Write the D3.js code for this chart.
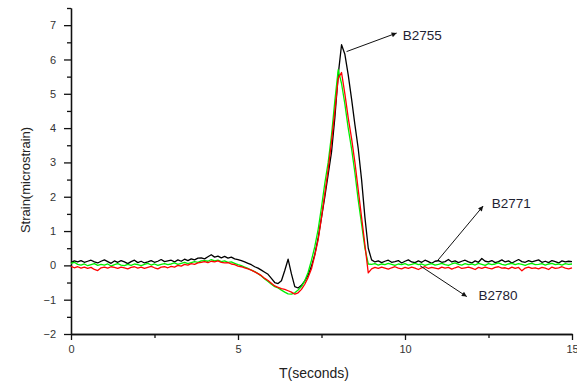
<!DOCTYPE html>
<html>
<head>
<meta charset="utf-8">
<script src="https://cdn.jsdelivr.net/npm/d3@7"></script>
<style>
  html, body { margin: 0; padding: 0; background: #fff; }
  svg { display: block; font-family: "Liberation Sans", Arial, sans-serif; }
</style>
</head>
<body>
<div class="container"></div>
<script>
// sample grid: 0 .. 15 s every 0.1 s
const times = d3.range(0, 151).map(i => i / 10);

// B2755 (black)
const b2755 = [
  0.08, 0.13, 0.10, 0.14, 0.09, 0.12, 0.15, 0.10, 0.07, 0.12,
  0.16, 0.11, 0.06, 0.13, 0.09, 0.14, 0.10, 0.05, 0.11, 0.15,
  0.08, 0.12, 0.07, 0.10, 0.14, 0.09, 0.12, 0.17, 0.11, 0.13,
  0.15, 0.10, 0.16, 0.12, 0.18, 0.14, 0.19, 0.16, 0.21, 0.22,
  0.19, 0.25, 0.31, 0.24, 0.27, 0.22, 0.26, 0.21, 0.24, 0.19,
  0.17, 0.14, 0.10, 0.06, 0.02, -0.04, -0.08, -0.14, -0.20, -0.26,
  -0.38, -0.50, -0.53, -0.45, -0.15, 0.18, -0.25, -0.62, -0.66, -0.58,
  -0.45, -0.28, -0.02, 0.32, 0.80, 1.40, 2.00, 2.65, 3.30, 4.30,
  5.55, 6.43, 6.15, 5.55, 4.85, 4.10, 3.40, 2.50, 1.40, 0.50,
  0.16, 0.10, 0.13, 0.08, 0.12, 0.15, 0.09, 0.11, 0.14, 0.07,
  0.12, 0.16, 0.10, 0.08, 0.13, 0.09, 0.15, 0.11, 0.06, 0.12,
  0.14, 0.09, 0.11, 0.17, 0.10, 0.13, 0.08, 0.12, 0.15, 0.10,
  0.07, 0.13, 0.09, 0.20, 0.12, 0.10, 0.14, 0.08, 0.11, 0.16,
  0.10, 0.13, 0.07, 0.12, 0.17, 0.11, 0.09, 0.14, 0.10, 0.13,
  0.16, 0.09, 0.12, 0.08, 0.14, 0.11, 0.07, 0.13, 0.10, 0.12,
  0.11
];

// B2771 (green)
const b2771 = [
  0.06, 0.09, 0.03, 0.01, 0.04, -0.01, 0.02, 0.05, 0.00, 0.03,
  0.01, 0.04, -0.02, 0.02, 0.05, 0.01, -0.01, 0.03, 0.00, 0.04,
  0.02, -0.01, 0.03, 0.06, 0.01, 0.04, 0.00, 0.03, 0.05, 0.02,
  0.04, 0.07, 0.03, 0.06, 0.09, 0.05, 0.08, 0.11, 0.09, 0.13,
  0.14, 0.12, 0.17, 0.13, 0.15, 0.11, 0.13, 0.09, 0.10, 0.06,
  0.02, -0.01, -0.05, -0.09, -0.14, -0.18, -0.24, -0.31, -0.40, -0.47,
  -0.55, -0.62, -0.66, -0.72, -0.78, -0.83, -0.84, -0.80, -0.72, -0.62,
  -0.45, -0.20, 0.15, 0.55, 1.05, 1.70, 2.40, 3.00, 3.80, 4.80,
  5.70, 5.30, 4.70, 4.00, 3.40, 2.70, 1.90, 1.20, 0.50, 0.04,
  0.03, 0.05, 0.01, 0.04, 0.02, 0.06, 0.03, 0.00, 0.04, 0.02,
  0.05, 0.01, 0.03, 0.06, 0.02, 0.04, 0.00, 0.03, 0.05, 0.01,
  0.03, 0.06, 0.02, 0.00, 0.04, 0.07, 0.03, 0.01, 0.05, 0.02,
  0.04, 0.01, 0.06, 0.03, 0.00, 0.05, 0.02, 0.04, 0.07, 0.03,
  0.01, 0.04, 0.06, 0.02, 0.05, 0.03, 0.00, 0.04, 0.06, 0.02,
  0.03, 0.05, 0.01, 0.04, 0.06, 0.02, 0.04, 0.01, 0.05, 0.03,
  0.04
];

// B2780 (red)
const b2780 = [
  -0.03, -0.07, -0.04, -0.08, -0.05, -0.09, -0.06, -0.12, -0.15, -0.07,
  -0.05, -0.08, -0.04, -0.06, -0.09, -0.05, -0.07, -0.10, -0.06, -0.04,
  -0.08, -0.05, -0.09, -0.06, -0.03, -0.07, -0.10, -0.05, -0.04, -0.07,
  -0.03, -0.05, 0.00, -0.02, 0.03, 0.01, 0.05, 0.03, 0.07, 0.09,
  0.11, 0.08, 0.12, 0.10, 0.13, 0.09, 0.07, 0.08, 0.04, 0.02,
  -0.02, -0.04, -0.07, -0.10, -0.14, -0.19, -0.24, -0.30, -0.38, -0.44,
  -0.52, -0.60, -0.64, -0.68, -0.70, -0.74, -0.78, -0.84, -0.80, -0.70,
  -0.55, -0.35, -0.10, 0.30, 0.75, 1.40, 2.10, 2.80, 3.60, 4.50,
  5.45, 5.62, 5.00, 4.30, 3.70, 3.00, 2.20, 1.40, 0.60, -0.22,
  -0.10, -0.06, -0.09, -0.05, -0.08, -0.11, -0.07, -0.04, -0.08, -0.10,
  -0.06, -0.09, -0.05, -0.08, -0.12, -0.07, -0.04, -0.09, -0.06, -0.08,
  -0.10, -0.05, -0.08, -0.06, -0.11, -0.07, -0.04, -0.09, -0.07, -0.05,
  -0.08, -0.12, -0.06, -0.09, -0.05, -0.08, -0.10, -0.06, -0.04, -0.08,
  -0.07, -0.10, -0.05, -0.09, -0.06, -0.16, -0.08, -0.05, -0.09, -0.07,
  -0.10, -0.06, -0.08, -0.12, -0.05, -0.09, -0.07, -0.04, -0.08, -0.10,
  -0.07
];

const seriesNames = ['B2755', 'B2771', 'B2780'];
const seriesColors = ['#000000', '#00ee00', '#ff0000'];
const seriesValues = [b2755, b2771, b2780];

const xMajorTicks = [0, 5, 10, 15];
const xMinorTicks = [2.5, 7.5, 12.5];
const yMajorTicks = [-2, -1, 0, 1, 2, 3, 4, 5, 6, 7];
const yMinorTicks = [-1.5, -0.5, 0.5, 1.5, 2.5, 3.5, 4.5, 5.5, 6.5, 7.5];

// label callouts: arrow from [t, v] to [t, v], text anchored at [t, v]
const callouts = [
  {name: 'B2755', from: [8.25, 6.23], to: [9.75, 6.77], text: [9.93, 6.69]},
  {name: 'B2771', from: [10.95, 0.11], to: [12.34, 1.73], text: [12.6, 1.81]},
  {name: 'B2780', from: [10.45, -0.01], to: [11.85, -0.91], text: [12.2, -0.88]}
];

const width = 577, height = 385;

const x = d3.scaleLinear().domain([0, 15]).range([71, 572]);
const y = d3.scaleLinear().domain([-2, 7.5]).range([334, 8]);

const svg = d3.select('.container')
    .append('svg')
    .attr('width', width)
    .attr('height', height);

svg.append('defs').append('marker')
    .attr('id', 'arrow')
    .attr('viewBox', '0 0 10 10')
    .attr('refX', 10)
    .attr('refY', 5)
    .attr('markerWidth', 8)
    .attr('markerHeight', 5)
    .attr('markerUnits', 'userSpaceOnUse')
    .attr('orient', 'auto')
    .append('path')
    .attr('d', 'M0,0L10,5L0,10Z')
    .attr('fill', '#111');

// axes
const yMinor = svg.append('g')
    .attr('transform', `translate(${x(0)},0)`)
    .call(d3.axisLeft(y).tickValues(yMinorTicks).tickSize(4).tickSizeOuter(0).tickFormat(''));

const yMajor = svg.append('g')
    .attr('transform', `translate(${x(0)},0)`)
    .call(d3.axisLeft(y).tickValues(yMajorTicks).tickSize(7).tickSizeOuter(0).tickPadding(8));

const xMinor = svg.append('g')
    .attr('transform', `translate(0,${y(-2)})`)
    .call(d3.axisBottom(x).tickValues(xMinorTicks).tickSize(4).tickSizeOuter(0).tickFormat(''));

const xMajor = svg.append('g')
    .attr('transform', `translate(0,${y(-2)})`)
    .call(d3.axisBottom(x).tickValues(xMajorTicks).tickSize(6).tickSizeOuter(0).tickPadding(5));

svg.selectAll('.domain, .tick line')
    .attr('stroke', '#111')
    .attr('stroke-width', 1.3);

svg.selectAll('.tick text')
    .attr('fill', '#333')
    .style('font-size', '11px')
    .style('font-family', '"Liberation Sans", Arial, sans-serif');

// axis titles
svg.append('text')
    .attr('transform', `translate(25,${180}) rotate(-90)`)
    .attr('text-anchor', 'middle')
    .attr('dominant-baseline', 'central')
    .attr('fill', '#222')
    .style('font-size', '13px')
    .text('Strain(microstrain)');

svg.append('text')
    .attr('x', 314)
    .attr('y', 373)
    .attr('text-anchor', 'middle')
    .attr('dominant-baseline', 'central')
    .attr('fill', '#222')
    .style('font-size', '14px')
    .text('T(seconds)');

// series
const line = d3.line()
    .x((d, i) => x(times[i]))
    .y(d => y(d));

svg.append('g')
    .selectAll('path')
    .data(seriesValues)
    .join('path')
    .attr('d', d => line(d))
    .attr('fill', 'none')
    .attr('stroke', (d, i) => seriesColors[i])
    .attr('stroke-width', 1.3)
    .attr('stroke-linejoin', 'round');

// callouts
const callout = svg.append('g')
    .selectAll('g')
    .data(callouts)
    .join('g');

callout.append('line')
    .attr('x1', d => x(d.from[0]))
    .attr('y1', d => y(d.from[1]))
    .attr('x2', d => x(d.to[0]))
    .attr('y2', d => y(d.to[1]))
    .attr('stroke', '#111')
    .attr('stroke-width', 1)
    .attr('marker-end', 'url(#arrow)');

callout.append('text')
    .attr('x', d => x(d.text[0]))
    .attr('y', d => y(d.text[1]))
    .attr('dominant-baseline', 'central')
    .attr('fill', '#1e2233')
    .style('font-size', '13.5px')
    .text(d => d.name);
</script>
</body>
</html>
